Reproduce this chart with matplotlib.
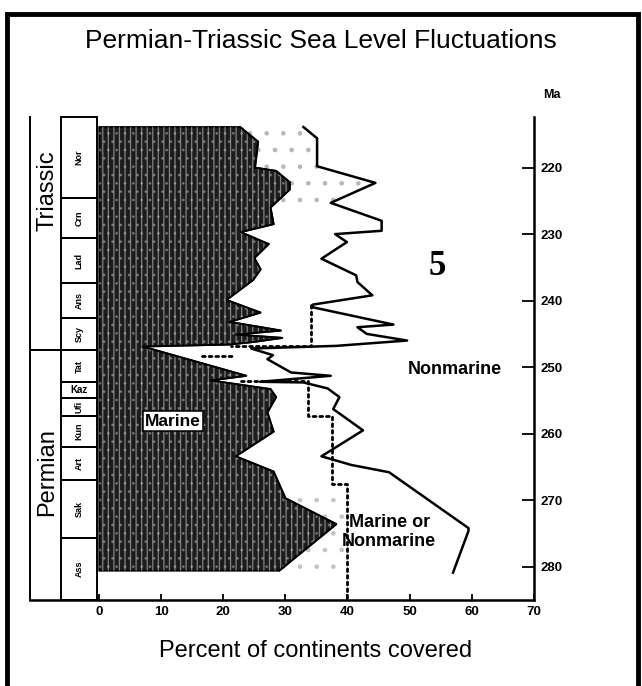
import numpy as np
import matplotlib
matplotlib.use("Agg")
import matplotlib.pyplot as plt
from matplotlib.patches import Rectangle

plt.rcParams['font.family'] = ['Liberation Sans', 'DejaVu Sans']
plt.rcParams['hatch.linewidth'] = 0.9

# marine limit (percent, Ma)
marine_pct = [22.7, 25.6, 25.1, 28.5, 30.7, 30.7, 27.6, 28.1, 22.8, 27.3, 25.0, 26.0, 24.8,
              20.5, 26.0, 21.0, 29.3, 22.0, 29.5, 25.0, 21.0, 7.0, 23.7, 18.0, 27.6, 28.5,
              27.1, 28.1, 22.0, 28.1, 30.0, 38.2, 29.0]
marine_ma = [213.9, 216.1, 220.0, 220.5, 222.2, 223.3, 226.0, 228.5, 229.7, 231.5, 233.6, 235.3, 236.9,
             239.9, 241.8, 243.2, 244.5, 245.1, 245.6, 246.2, 246.6, 246.9, 251.3, 252.0, 253.3, 254.5,
             256.8, 259.7, 263.4, 265.7, 269.7, 273.6, 280.6]

# nonmarine limit
nonmarine_pct = [32.9, 35.1, 35.1, 44.5, 37.3, 45.5, 45.5, 38.0, 39.9, 35.8, 41.4, 41.6, 44.0, 34.4,
                 34.4, 47.4, 41.6, 43.1, 49.6, 38.2, 24.5, 28.0, 27.1, 30.9, 37.3, 25.9, 32.9, 36.8,
                 38.7, 37.7, 42.5, 35.8, 40.6, 46.7, 59.5, 59.5, 57.0]
nonmarine_ma = [213.9, 215.6, 219.8, 222.3, 225.3, 228.0, 229.5, 230.0, 231.2, 233.7, 236.2, 237.2, 239.2, 240.6,
                241.0, 243.6, 244.0, 245.0, 246.0, 246.8, 247.2, 248.2, 248.8, 250.8, 251.3, 252.2, 252.3, 253.2,
                254.5, 256.3, 259.5, 263.4, 264.7, 265.8, 274.2, 274.6, 280.9]

# marine-or-nonmarine boundary (dotted)
dot_pct = [[34.1, 34.1, 21.3], [16.5, 21.8], [22.8, 33.6, 33.6, 37.5, 37.5, 40.0, 40.0]]
dot_ma = [[240.6, 246.8, 246.8], [248.3, 248.3], [252.1, 252.1, 257.4, 257.4, 267.5, 267.5, 285.0]]

stages = ['Nor', 'Crn', 'Lad', 'Ans', 'Scy', 'Tat', 'Kaz', 'Ufi', 'Kun', 'Art', 'Sak', 'Ass']
stage_bounds = [212.4, 224.5, 230.6, 237.4, 242.6, 247.4, 252.3, 254.7, 257.4, 262.0, 267.0, 275.7, 285.0]
periods = ['Triassic', 'Permian']
period_bounds = [212.4, 247.4, 285.0]

xticks = [0, 10, 20, 30, 40, 50, 60, 70]
yticks = [220, 230, 240, 250, 260, 270, 280]

fig = plt.figure(figsize=(6.42, 6.86), dpi=100)
ax = fig.add_axes([0.0463, 0.1254, 0.785, 0.704])
ax.set_xlim(-11.2, 70)
ax.set_ylim(285.0, 212.4)

# marine area
mx = [0] + marine_pct + [0]
my = [marine_ma[0]] + marine_ma + [marine_ma[-1]]
ax.fill(mx, my, facecolor='#1c1c1c', edgecolor='black', linewidth=1.3, zorder=2)
ax.fill(mx, my, facecolor='none', edgecolor='white', hatch='|||', linewidth=0, alpha=0.45, zorder=3)
ax.fill(mx, my, facecolor='none', edgecolor='#cccccc', hatch='..', linewidth=0, alpha=0.35, zorder=3)
ax.plot(mx[1:-1], my[1:-1], color='black', lw=1.4, zorder=4)

# stippled zones
up_x = marine_pct[:7] + nonmarine_pct[:5][::-1]
up_y = marine_ma[:7] + nonmarine_ma[:5][::-1]
ax.fill(up_x, up_y, facecolor='none', edgecolor='#b8b8b8', hatch='.', linewidth=0, zorder=1)
lo_x = marine_pct[-3:] + [40, 40]
lo_y = marine_ma[-3:] + [marine_ma[-1], marine_ma[-3]]
ax.fill(lo_x, lo_y, facecolor='none', edgecolor='#c4c4c4', hatch='.', linewidth=0, zorder=1)

ax.plot(nonmarine_pct, nonmarine_ma, color='black', lw=1.8, zorder=5)
for xs, ys in zip(dot_pct, dot_ma):
    ax.plot(xs, ys, color='black', lw=2.0, linestyle=(0, (1, 1.4)), dash_capstyle='round', zorder=5)

# stage column
for i, s in enumerate(stages):
    top, bot = stage_bounds[i], stage_bounds[i + 1]
    ax.add_patch(Rectangle((-6.1, top), 5.7, bot - top, fill=False, lw=1.4, clip_on=False, zorder=6))
    rot = 0 if s == 'Kaz' else 90
    ax.text(-3.25, (top + bot) / 2, s, rotation=rot, ha='center', va='center',
            fontsize=7 if s == 'Kaz' else 6.5, fontweight='bold', clip_on=False)

# period column
ax.plot([-11.2, -11.2], [212.4, 285.0], color='black', lw=1.4, clip_on=False)
ax.plot([-11.2, -6.1], [period_bounds[1], period_bounds[1]], color='black', lw=1.4, clip_on=False)
for i, p in enumerate(periods):
    ax.text(-8.4, (period_bounds[i] + period_bounds[i + 1]) / 2 + (-6.5 if i == 0 else -0.5), p,
            rotation=90, ha='center', va='center', fontsize=17, clip_on=False)

for sp in ['left', 'top']:
    ax.spines[sp].set_visible(False)
ax.spines['right'].set_linewidth(1.8)
ax.spines['bottom'].set_linewidth(1.8)
ax.set_xticks(xticks)
ax.set_yticks(yticks)
ax.yaxis.tick_right()
ax.tick_params(axis='y', direction='in', length=8.4, width=1.3, labelsize=9.5, pad=5)
ax.tick_params(axis='x', direction='in', length=4.3, width=1.3, labelsize=9.5, pad=4)
for lab in ax.get_xticklabels() + ax.get_yticklabels():
    lab.set_fontweight('bold')

ax.text(54.4, 234.9, '5', fontsize=25, fontweight='bold',
        family=['Liberation Serif', 'DejaVu Serif'], ha='center', va='center')
ax.text(57.3, 250.4, 'Nonmarine', fontsize=13, fontweight='bold', ha='center', va='center')
ax.text(46.7, 274.8, 'Marine or\nNonmarine', fontsize=13, fontweight='bold', ha='center',
        va='center', linespacing=1.1)
ax.text(11.9, 258.1, 'Marine', fontsize=12.5, fontweight='bold', ha='center', va='center', zorder=7,
        bbox=dict(boxstyle='square,pad=0.12', facecolor='white', edgecolor='black', lw=1.1))

fig.text(0.86, 0.8615, 'Ma', fontsize=9, fontweight='bold', ha='center', va='center')
fig.text(0.5, 0.94, 'Permian-Triassic Sea Level Fluctuations', fontsize=19, ha='center', va='center')
fig.text(0.491, 0.051, 'Percent of continents covered', fontsize=17, ha='center', va='center')

fig.patches.append(Rectangle((0.011, -0.05), 0.983, 1.03, transform=fig.transFigure,
                             fill=False, lw=3.5, edgecolor='black'))

fig.savefig('out.png', dpi=100)
